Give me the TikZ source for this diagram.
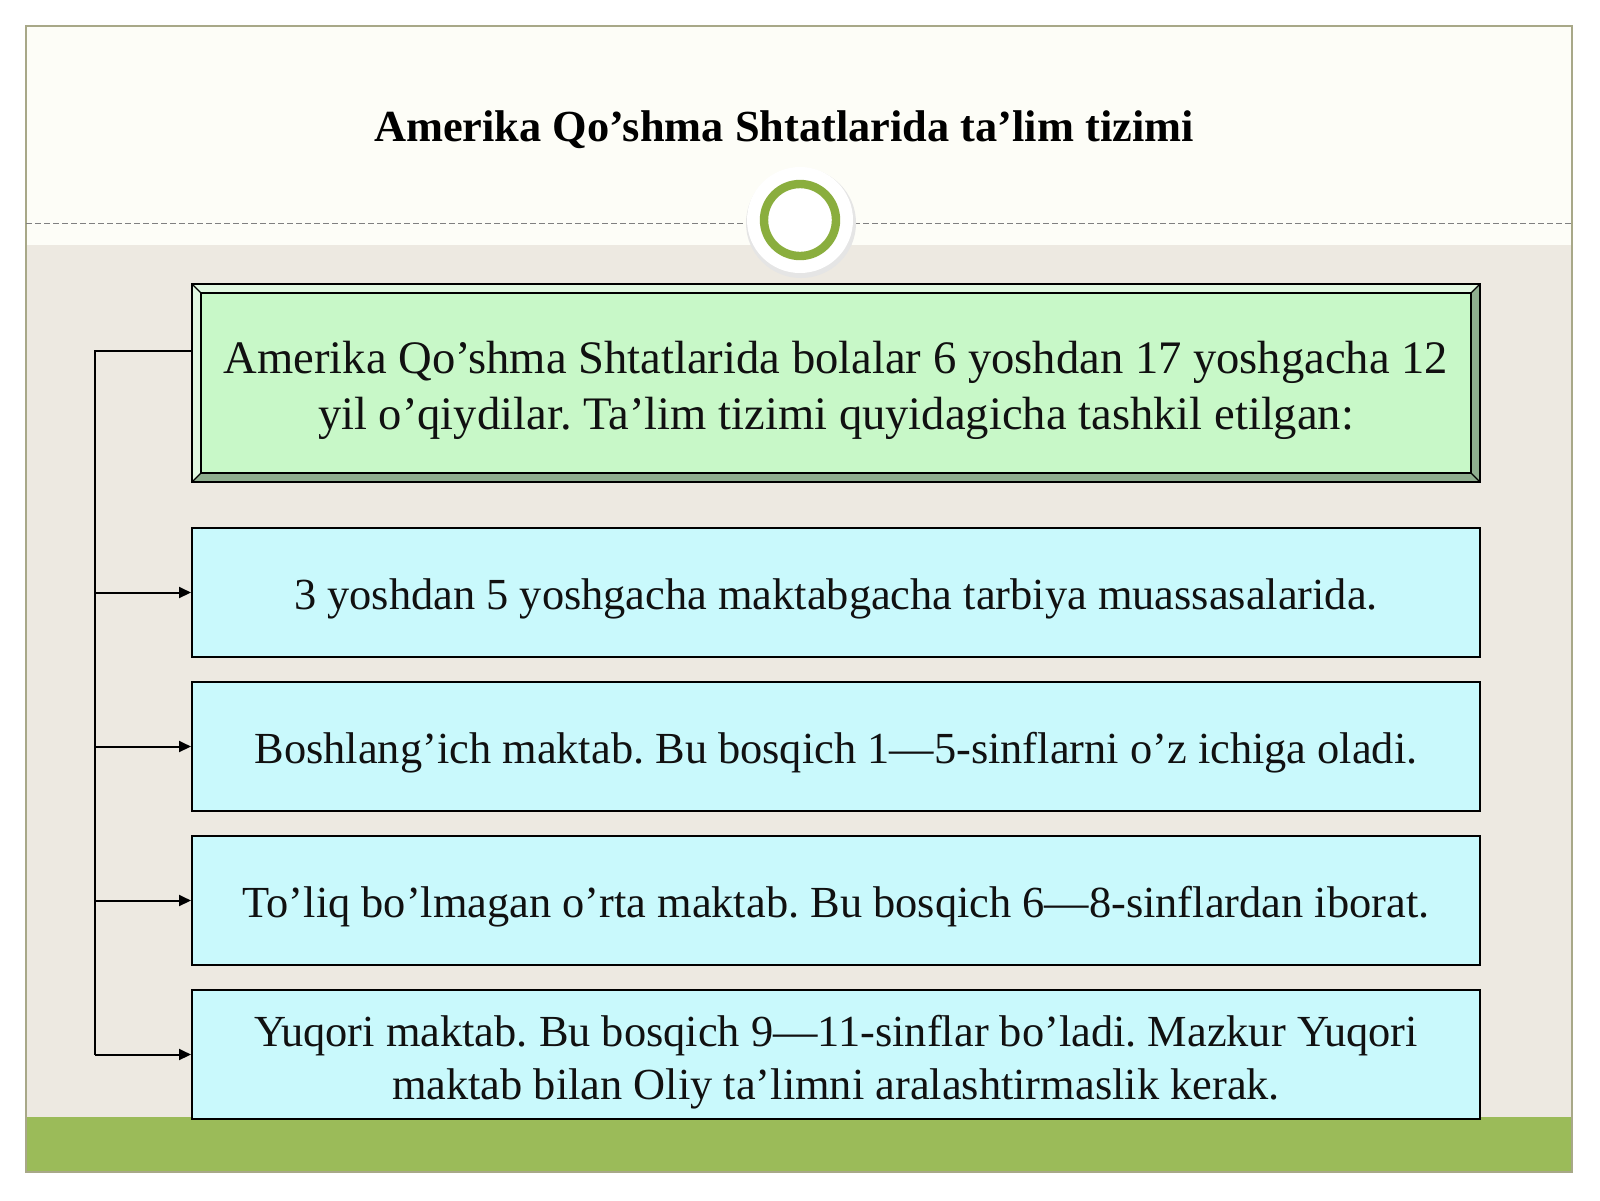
\documentclass[tikz,border=0pt]{standalone}
\usepackage{fontspec}
\setmainfont{Liberation Serif}
\usetikzlibrary{arrows.meta}
\definecolor{topbg}{HTML}{FDFDF7}
\definecolor{midbg}{HTML}{EDE9E1}
\definecolor{barg}{HTML}{9BBB59}
\definecolor{framec}{HTML}{A8A888}
\definecolor{ringc}{HTML}{8AAE3E}
\definecolor{greenfill}{HTML}{C8F8C8}
\definecolor{bevlight}{HTML}{E2F8E2}
\definecolor{bevdark}{HTML}{8FAE8F}
\definecolor{bluefill}{HTML}{C9F9FC}
\definecolor{txt}{HTML}{111111}
\tikzset{
  bluebox/.style={draw=black, line width=1pt, fill=bluefill, minimum width=644pt, minimum height=64.5pt, align=center, text=txt, font=\fontsize{22.2}{26.5}\selectfont, inner sep=0pt},
  greenbox/.style={minimum width=644pt, minimum height=99pt, align=center, text=txt, font=\fontsize{23.3}{28}\selectfont, inner sep=0pt},
  conn/.style={draw=black, line width=1pt},
  arr/.style={conn, -{Triangle[length=6pt,width=5.5pt]}}
}
\begin{document}
\frenchspacing
\begin{tikzpicture}[x=0.5pt,y=-0.5pt]
\useasboundingbox (0,0) rectangle (1600,1200);
\fill[white] (0,0) rectangle (1600,1200);
\fill[topbg] (26,26) rectangle (1572,245);
\fill[midbg] (26,245) rectangle (1572,1117);
\fill[barg] (26,1117) rectangle (1572,1172);
\draw[framec, line width=1pt] (26,26) rectangle (1572,1172);
\draw[gray, dashed, line width=0.5pt, dash pattern=on 3pt off 1.5pt] (26,223) -- (1572,223);
% circle ornament
\fill[black!10] (801,223) circle (27.5pt);
\fill[white] (800,220) circle (26.5pt);
\draw[ringc, line width=4.2pt] (800,220) circle (18pt);
% title
\node[font=\bfseries\fontsize{22.2}{26}\selectfont, text=black] (title) at (784,130) {Amerika Qo’shma Shtatlarida ta’lim tizimi};
% green bevel box
\fill[greenfill] (192,284) rectangle (1480,482);
\fill[bevlight] (192,284) -- (1480,284) -- (1471,293) -- (201,293) -- (201,473) -- (192,482) -- cycle;
\fill[bevdark] (1480,284) -- (1480,482) -- (192,482) -- (201,473) -- (1471,473) -- (1471,293) -- cycle;
\draw[black, line width=1pt] (192,284) rectangle (1480,482);
\draw[black, line width=0.8pt] (201,293) rectangle (1471,473);
\draw[black, line width=0.6pt] (192,284) -- (201,293) (1480,284) -- (1471,293) (192,482) -- (201,473) (1480,482) -- (1471,473);
\node[greenbox] (g) at (836,383) {};
\node[greenbox, minimum height=0pt, yshift=-3.5pt] (gt) at (g.center) {Amerika Qo’shma Shtatlarida bolalar 6 yoshdan 17 yoshgacha 12\\yil o’qiydilar. Ta’lim tizimi quyidagicha tashkil etilgan:};
% blue boxes
\node[bluebox] (b1) at (836,592.5) {};
\node[bluebox] (b2) at (836,746.5) {};
\node[bluebox] (b3) at (836,900.5) {};
\node[bluebox] (b4) at (836,1054.5) {};
\node[bluebox, draw=none, fill=none, minimum height=0pt, yshift=-3pt] (t1) at (b1.center) {3 yoshdan 5 yoshgacha maktabgacha tarbiya muassasalarida.};
\node[bluebox, draw=none, fill=none, minimum height=0pt, yshift=-3pt] (t2) at (b2.center) {Boshlang’ich maktab. Bu bosqich 1—5-sinflarni o’z ichiga oladi.};
\node[bluebox, draw=none, fill=none, minimum height=0pt, yshift=-3pt] (t3) at (b3.center) {To’liq bo’lmagan o’rta maktab. Bu bosqich 6—8-sinflardan iborat.};
\node[bluebox, draw=none, fill=none, minimum height=0pt, yshift=-4pt] (t4) at (b4.center) {Yuqori maktab. Bu bosqich 9—11-sinflar bo’ladi. Mazkur Yuqori\\maktab bilan Oliy ta’limni aralashtirmaslik kerak.};
% connectors
\coordinate (c0) at (95,351);
\draw[conn] (g.west |- c0) -- (c0) -- (c0 |- b4.west);
\draw[arr] (c0 |- b1.west) -- (b1.west);
\draw[arr] (c0 |- b2.west) -- (b2.west);
\draw[arr] (c0 |- b3.west) -- (b3.west);
\draw[arr] (c0 |- b4.west) -- (b4.west);
\end{tikzpicture}
\end{document}
